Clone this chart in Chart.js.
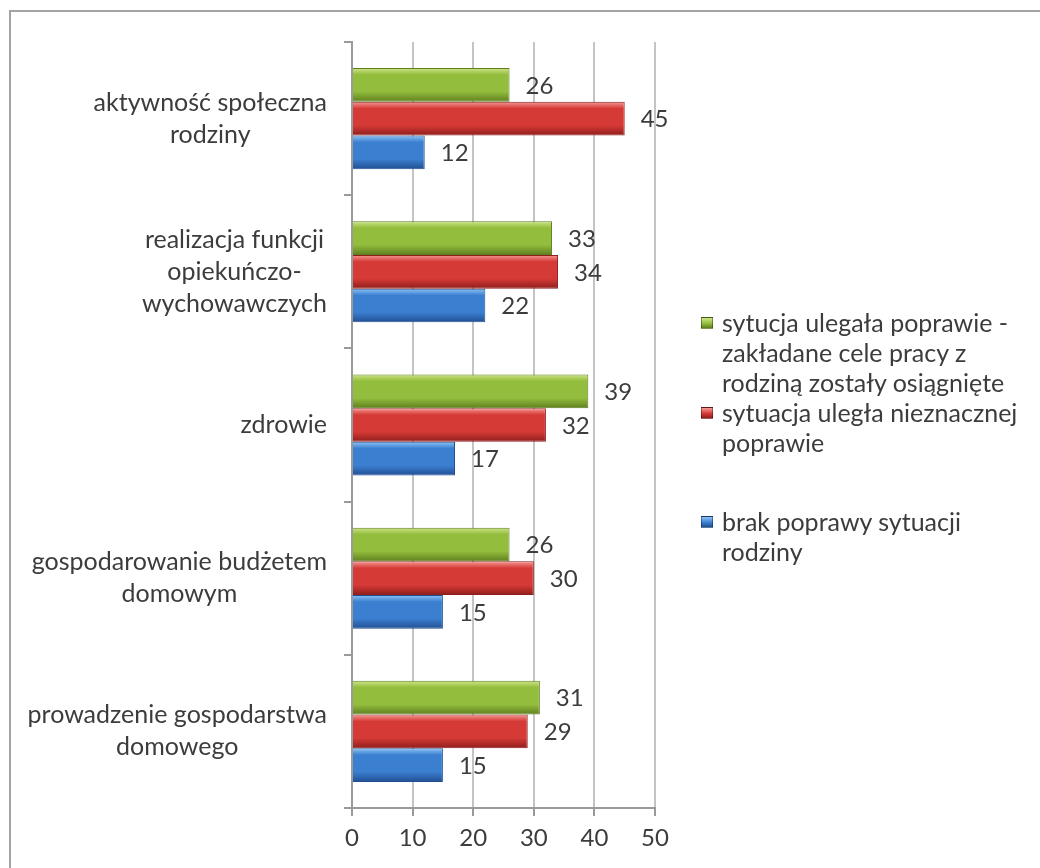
<!DOCTYPE html>
<html>
<head>
<meta charset="utf-8">
<script src="https://cdn.jsdelivr.net/npm/chart.js@4.4.1/dist/chart.umd.min.js"></script>
<style>
  body { margin: 0; background: #fff; overflow: hidden; }
  #wrap { position: relative; width: 1040px; height: 868px; }
  #frame { position: absolute; left: 9px; top: 10px; width: 1100px; height: 900px; border: 2px solid #a3a3a3; }
  canvas { position: absolute; left: 0; top: 0; }
  .leg { position: absolute; left: 722px; font-family: Lato, sans-serif; font-size: 25px; line-height: 30px; color: #3c3c3c; white-space: nowrap; }
  .leg i { position: absolute; left: -21px; top: 10px; width: 12px; height: 12px; border: 1px solid rgba(0,0,0,0.35); box-sizing: border-box; }
</style>
</head>
<body>
<div id="wrap">
  <div id="frame"></div>
  <canvas id="myChart" width="1040" height="868"></canvas>
  <div id="legend"></div>
</div>
<script>
try {
    const categories = [
        ['aktywność społeczna', 'rodziny'],
        ['realizacja funkcji', 'opiekuńczo-', 'wychowawczych'],
        ['zdrowie'],
        ['gospodarowanie budżetem', 'domowym'],
        ['prowadzenie gospodarstwa', 'domowego']
    ]
    const seriesNames = [
        ['sytucja ulegała poprawie -', 'zakładane cele pracy z', 'rodziną zostały osiągnięte'],
        ['sytuacja uległa nieznacznej', 'poprawie'],
        ['brak poprawy sytuacji', 'rodziny']
    ]
    const improved = [26, 33, 39, 26, 31]
    const slightly = [45, 34, 32, 30, 29]
    const noChange = [12, 22, 17, 15, 15]
    const xTicks = [0, 10, 20, 30, 40, 50]

    // light, base, dark shades for the "3D" look
    const shades = [
        ['#cfe68a', '#93bd3c', '#5f7f1f'],
        ['#f59a96', '#d63a36', '#8f1e1c'],
        ['#8cc4f5', '#3b7fd0', '#214f92']
    ]
    const legendTops = [307, 397, 506]

    const legend = document.getElementById('legend')
    seriesNames.forEach((lines, i) => {
        const d = document.createElement('div')
        d.className = 'leg'
        d.style.top = legendTops[i] + 'px'
        d.innerHTML = '<i style="background:linear-gradient(' + shades[i][0] + ',' + shades[i][1] + ' 55%,' + shades[i][2] + ')"></i>' + lines.join('<br>')
        legend.appendChild(d)
    })

    // give every bar its own vertical gradient
    const barShade = {
        id: 'barShade',
        beforeDatasetsDraw(chart) {
            const ctx = chart.ctx
            chart.data.datasets.forEach((ds, i) => {
                chart.getDatasetMeta(i).data.forEach(el => {
                    const top = el.y - el.height / 2
                    const g = ctx.createLinearGradient(0, top, 0, top + el.height)
                    g.addColorStop(0, shades[i][0])
                    g.addColorStop(0.2, shades[i][1])
                    g.addColorStop(0.7, shades[i][1])
                    g.addColorStop(1, shades[i][2])
                    el.options = Object.assign({}, el.options, { backgroundColor: g })
                })
            })
        }
    }

    const valueLabels = {
        id: 'valueLabels',
        afterDatasetsDraw(chart) {
            const ctx = chart.ctx
            ctx.save()
            ctx.font = '24px Lato, sans-serif'
            ctx.fillStyle = '#3c3c3c'
            ctx.textAlign = 'left'
            ctx.textBaseline = 'middle'
            chart.data.datasets.forEach((ds, i) => {
                chart.getDatasetMeta(i).data.forEach((el, j) => {
                    ctx.fillText(ds.data[j], el.x + 16, el.y + 1)
                })
            })
            ctx.restore()
        }
    }

    // category labels: block right aligned, lines centered inside the block
    const catLabels = {
        id: 'catLabels',
        afterDraw(chart) {
            const ctx = chart.ctx
            const y = chart.scales.y
            const right = 327
            const lh = 32
            ctx.save()
            ctx.font = '25px Lato, sans-serif'
            ctx.fillStyle = '#3c3c3c'
            ctx.textAlign = 'center'
            ctx.textBaseline = 'middle'
            categories.forEach((lines, i) => {
                const w = Math.max(...lines.map(l => ctx.measureText(l).width))
                const cx = right - w / 2
                const cy = y.getPixelForValue(i)
                lines.forEach((l, k) => {
                    ctx.fillText(l, cx, cy + (k - (lines.length - 1) / 2) * lh)
                })
            })
            ctx.restore()
        }
    }

    const ctx = document.getElementById('myChart').getContext('2d')
    const myChart = new Chart(ctx, {
        type: 'bar',
        data: {
            labels: categories,
            datasets: [
                { label: seriesNames[0].join(' '), data: improved, backgroundColor: shades[0][1], borderColor: shades[0][2] },
                { label: seriesNames[1].join(' '), data: slightly, backgroundColor: shades[1][1], borderColor: shades[1][2] },
                { label: seriesNames[2].join(' '), data: noChange, backgroundColor: shades[2][1], borderColor: shades[2][2] }
            ]
        },
        options: {
            indexAxis: 'y',
            responsive: false,
            animation: false,
            devicePixelRatio: 1,
            datasets: {
                bar: { categoryPercentage: 0.66, barPercentage: 1.0, borderWidth: 1 }
            },
            layout: { padding: { left: 0, right: 385, top: 42, bottom: 0 } },
            plugins: {
                legend: { display: false },
                tooltip: { enabled: false }
            },
            scales: {
                x: {
                    min: 0,
                    max: 50,
                    afterBuildTicks: s => { s.ticks = xTicks.map(v => ({ value: v })) },
                    afterFit: s => { s.height = 60 },
                    grid: { color: '#c4c4c4', lineWidth: 2, tickLength: 8, tickColor: '#9a9a9a' },
                    border: { color: '#9a9a9a', width: 2 },
                    ticks: { color: '#3c3c3c', font: { family: 'Lato', size: 24 }, padding: 8 }
                },
                y: {
                    afterFit: s => { s.width = 352 },
                    grid: { drawOnChartArea: false, tickLength: 8, color: '#9a9a9a', lineWidth: 2 },
                    border: { color: '#9a9a9a', width: 2 },
                    ticks: { color: 'rgba(0,0,0,0)' }
                }
            }
        },
        plugins: [barShade, valueLabels, catLabels]
    })
} catch (error) {
    console.log(error)
}
</script>
</body>
</html>
